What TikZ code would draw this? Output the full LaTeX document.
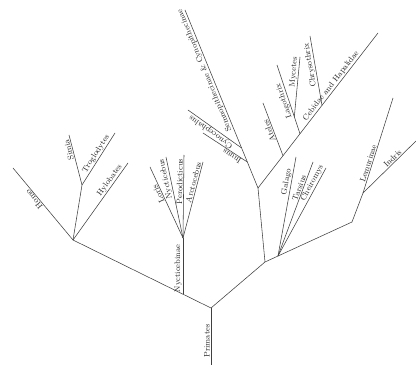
\documentclass[tikz,border=0pt]{standalone}
\begin{document}
\begin{tikzpicture}[x=1pt,y=-1pt,
  br/.style={draw=black!75, line width=0.55pt},
  lbl/.style={sloped, allow upside down, anchor=south, inner sep=1pt,
    font=\fontsize{8}{9.5}\selectfont, text=black!85}]
\useasboundingbox[fill=white] (0,0) rectangle (416,374);
% coordinates
\coordinate (base) at (211,365);
\coordinate (R) at (211,308);
\coordinate (L) at (73,240);
\coordinate (homoT) at (13,168);
\coordinate (S0) at (82,185);
\coordinate (simT) at (69,135);
\coordinate (troT) at (115,133);
\coordinate (hylT) at (128,163);
\coordinate (N0) at (183,294.2);
\coordinate (N1) at (183,238);
\coordinate (lorT) at (150,167);
\coordinate (nycT) at (166,157);
\coordinate (perT) at (184,155);
\coordinate (arcT) at (203,162);
\coordinate (J2) at (265,262);
\coordinate (J5) at (258,188);
\coordinate (semT) at (185,10);
\coordinate (C0) at (241.6,148);
\coordinate (cynT) at (188,110);
\coordinate (I0) at (247.3,162);
\coordinate (inuT) at (203,133);
\coordinate (cebT) at (378,33);
\coordinate (A0) at (283,155.7);
\coordinate (ateT) at (263,103);
\coordinate (G0) at (300,133.75);
\coordinate (lagT) at (277,65);
\coordinate (M0) at (294.3,117);
\coordinate (mycT) at (300,57);
\coordinate (H0) at (322,105.3);
\coordinate (chrT) at (310,36);
\coordinate (G) at (278,256);
\coordinate (galT) at (296,157);
\coordinate (tarT) at (313,162);
\coordinate (cheT) at (326,168);
\coordinate (J4) at (352,222);
\coordinate (J6) at (363,193);
\coordinate (lemT) at (393,98);
\coordinate (indT) at (416,141);
% branches
\draw[br] (base) -- (R);
\draw[br] (R) -- (L);
\draw[br] (L) -- (homoT);
\draw[br] (L) -- (S0);
\draw[br] (S0) -- (simT);
\draw[br] (S0) -- (troT);
\draw[br] (L) -- (hylT);
\draw[br] (N0) -- (N1);
\draw[br] (N1) -- (lorT);
\draw[br] (N1) -- (nycT);
\draw[br] (N1) -- (perT);
\draw[br] (N1) -- (arcT);
\draw[br] (R) -- (J2);
\draw[br] (J2) -- (J5);
\draw[br] (J5) -- (semT);
\draw[br] (C0) -- (cynT);
\draw[br] (I0) -- (inuT);
\draw[br] (J5) -- (cebT);
\draw[br] (A0) -- (ateT);
\draw[br] (G0) -- (lagT);
\draw[br] (M0) -- (mycT);
\draw[br] (H0) -- (chrT);
\draw[br] (J2) -- (J4);
\draw[br] (G) -- (galT);
\draw[br] (G) -- (tarT);
\draw[br] (G) -- (cheT);
\draw[br] (J4) -- (J6);
\draw[br] (J6) -- (lemT);
\draw[br] (J6) -- (indT);
% labels
\path (base) -- (R) node[lbl,pos=0.42] (lPri) {Primates};
\path (L) -- (homoT) node[lbl,pos=0.6] (lHomo) {Homo};
\path (S0) -- (simT) node[lbl,pos=0.72] (lSim) {Simia};
\path (S0) -- (troT) node[lbl,pos=0.55] (lTro) {Troglodytes};
\path (L) -- (hylT) node[lbl,pos=0.74] (lHyl) {Hylobates};
\path (N0) -- (N1) node[lbl,pos=0.46] (lNyc0) {Nycticebinae};
\path (N1) -- (lorT) node[lbl,pos=0.64] (lLor) {Loris};
\path (N1) -- (nycT) node[lbl,pos=0.74] (lNyc) {Nycticebus};
\path (N1) -- (perT) node[lbl,pos=0.68] (lPer) {Perodicticus};
\path (N1) -- (arcT) node[lbl,pos=0.72] (lArc) {Arctocebus};
\path (J5) -- (semT) node[lbl,pos=0.67] (lSem) {Semnopithecinae \& Cynopithecinae};
\path (C0) -- (cynT) node[lbl,pos=0.52] (lCyn) {Cynocephalus};
\path (I0) -- (inuT) node[lbl,pos=0.3] (lInu) {Inuus};
\path (J5) -- (cebT) node[lbl,pos=0.64] (lCeb) {Cebidae and Hapalidae};
\path (A0) -- (ateT) node[lbl,pos=0.5] (lAte) {Ateles};
\path (G0) -- (lagT) node[lbl,pos=0.5] (lLag) {Lagothrix};
\path (M0) -- (mycT) node[lbl,pos=0.74] (lMyc) {Mycetes};
\path (H0) -- (chrT) node[lbl,pos=0.59] (lChr) {Chrysothrix};
\path (G) -- (galT) node[lbl,pos=0.74] (lGal) {Galago};
\path (G) -- (tarT) node[lbl,pos=0.71] (lTar) {Tarsius};
\path (G) -- (cheT) node[lbl,pos=0.80] (lChe) {Cheiromys};
\path (J6) -- (lemT) node[lbl,pos=0.30] (lLem) {Lemurinae};
\path (J6) -- (indT) node[lbl,pos=0.61] (lInd) {Indris};
\end{tikzpicture}
\end{document}
